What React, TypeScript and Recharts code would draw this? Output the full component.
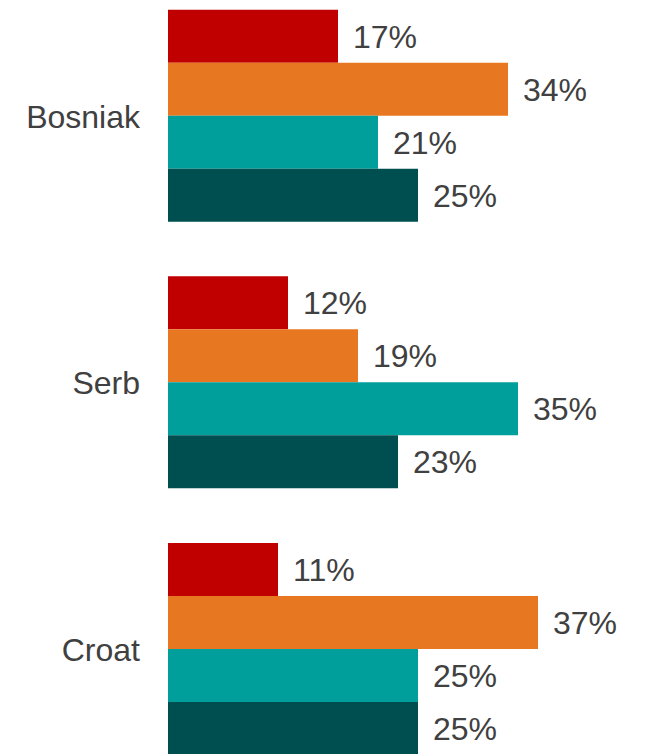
import type { FC } from 'react';

import { Bar, BarChart, LabelList, XAxis, YAxis } from 'recharts';

const groups = ['Bosniak', 'Serb', 'Croat'];
const seriesA = [17, 12, 11];
const seriesB = [34, 19, 37];
const seriesC = [21, 35, 25];
const seriesD = [25, 23, 25];

const data = groups.map((name, i) => ({
  name,
  a: seriesA[i],
  b: seriesB[i],
  c: seriesC[i],
  d: seriesD[i],
}));

const labelStyle = { fontSize: 32, fill: '#404040', fontFamily: "'Liberation Sans', Arial, sans-serif" };

const fmt = (v: any) => `${v}%`;

const App: FC = () => {
  return (
    <div style={{ marginTop: -25, width: 630, height: 800 }}>
      <BarChart
        width={630}
        height={800}
        data={data}
        layout="vertical"
        barCategoryGap="10%"
        barGap={0}
        margin={{ top: 0, right: 0, bottom: 0, left: 0 }}
      >
        <XAxis type="number" domain={[0, 47]} hide />
        <YAxis
          type="category"
          dataKey="name"
          width={160}
          axisLine={false}
          tickLine={false}
          tickMargin={22}
          tick={labelStyle}
        />
        <Bar dataKey="a" fill="#C00000" isAnimationActive={false}>
          <LabelList dataKey="a" position="right" offset={15} formatter={fmt} style={labelStyle} />
        </Bar>
        <Bar dataKey="b" fill="#E87722" isAnimationActive={false}>
          <LabelList dataKey="b" position="right" offset={15} formatter={fmt} style={labelStyle} />
        </Bar>
        <Bar dataKey="c" fill="#009F9B" isAnimationActive={false}>
          <LabelList dataKey="c" position="right" offset={15} formatter={fmt} style={labelStyle} />
        </Bar>
        <Bar dataKey="d" fill="#004F50" isAnimationActive={false}>
          <LabelList dataKey="d" position="right" offset={15} formatter={fmt} style={labelStyle} />
        </Bar>
      </BarChart>
    </div>
  );
};

export default App;
